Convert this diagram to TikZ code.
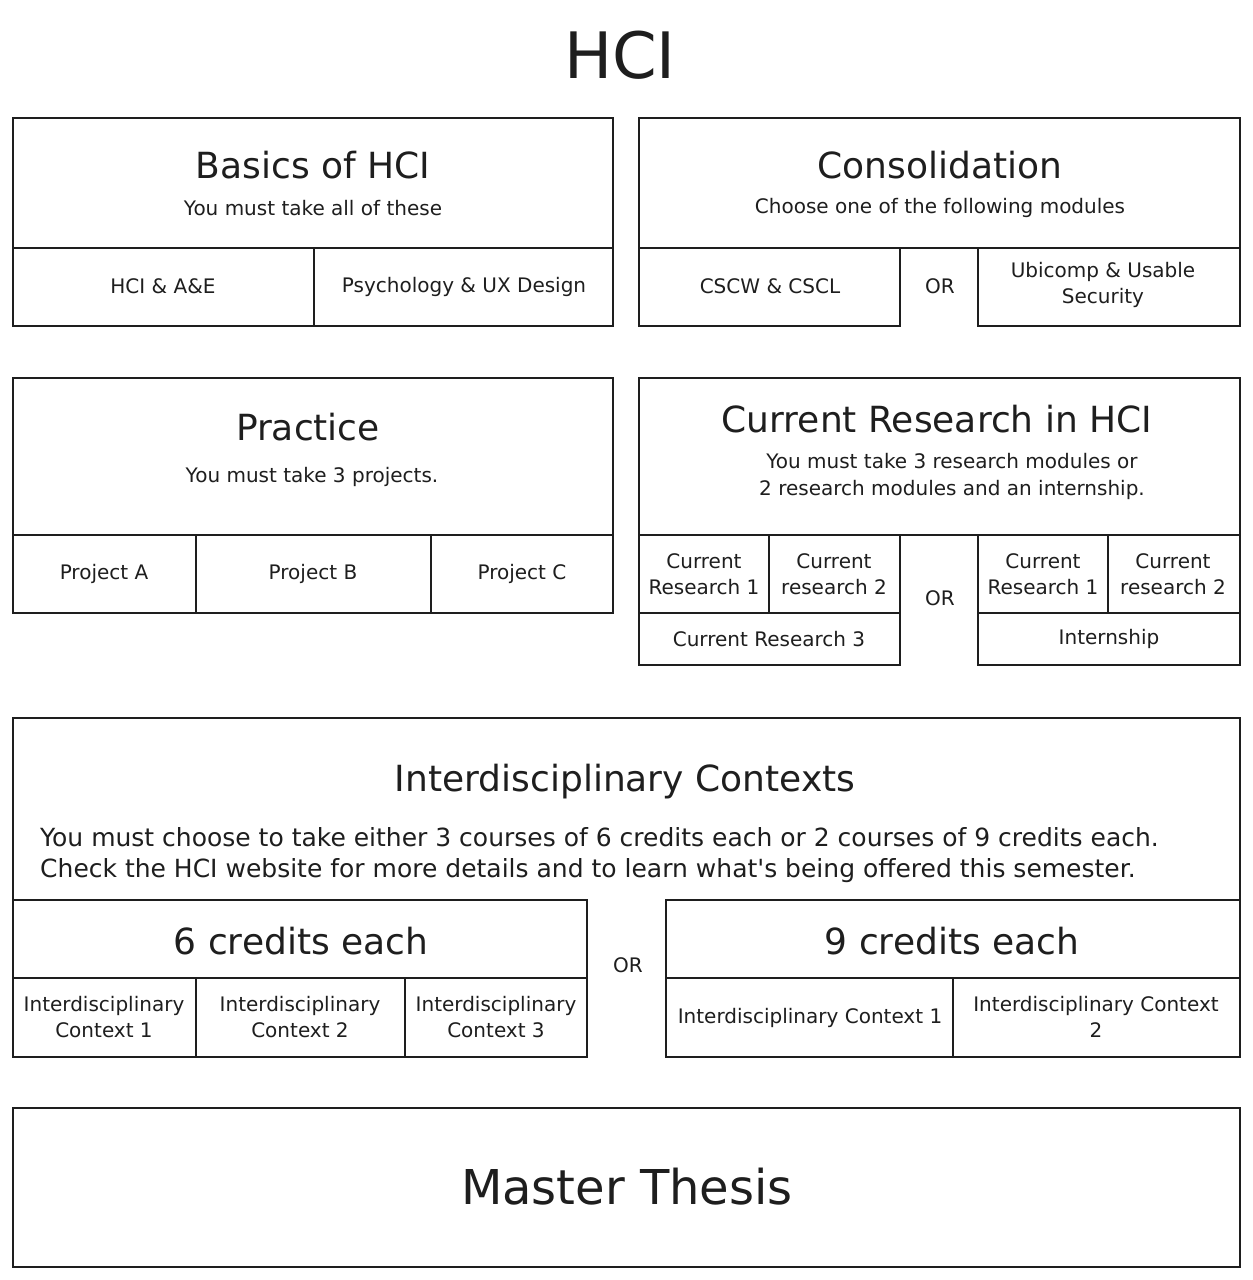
\documentclass[tikz,border=0pt]{standalone}
\usepackage{fontspec}
\setmainfont{DejaVu Sans}
\definecolor{ink}{HTML}{1E1E1E}
\begin{document}
\begin{tikzpicture}[x=1pt,y=-1pt,
  frame/.style={draw=ink, line width=2.8pt, line join=miter},
  body/.style={text=ink, align=center, inner sep=0pt, font=\fontsize{20}{26}\selectfont},
  sub/.style={text=ink, align=center, inner sep=0pt, font=\fontsize{20}{27}\selectfont},
  head/.style={text=ink, inner sep=0pt, font=\fontsize{36}{42}\selectfont},
  long/.style={text=ink, align=left, inner sep=0pt, font=\fontsize{25}{31}\selectfont},
  ortext/.style={text=ink, inner sep=0pt, font=\fontsize{20}{24}\selectfont}]
\useasboundingbox[fill=white] (0,0) rectangle (1253,1280);

% Title
\node[text=ink, inner sep=0pt, font=\fontsize{64}{70}\selectfont] (title) at (620,55) {HCI};

% ---------- Basics of HCI ----------
\draw[frame] (13,118) rectangle (613,326);
\draw[frame] (13,248) -- (613,248);
\draw[frame] (314,248) -- (314,326);
\node[head] (basicsT) at (313,165) {Basics of HCI};
\node[sub] (basicsS) at (313,208) {You must take all of these};
\node[body] (hciae) at (163,286) {HCI \& A\&E};
\node[body] (psych) at (464,287) {Psychology \& UX Design};

% ---------- Consolidation ----------
\draw[frame] (639,118) rectangle (1240,248);
\draw[frame] (639,248) rectangle (900,326);
\draw[frame] (978,248) rectangle (1240,326);
\node[head] (consT) at (940,165) {Consolidation};
\node[sub] (consS) at (940,208) {Choose one of the following modules};
\node[body] (cscw) at (770,286) {CSCW \& CSCL};
\node[ortext] (or1) at (940,286) {OR};
\node[body] (ubi) at (1103,285) {Ubicomp \& Usable\\Security};

% ---------- Practice ----------
\draw[frame] (13,378) rectangle (613,613);
\draw[frame] (13,535) -- (613,535);
\draw[frame] (196,535) -- (196,613);
\draw[frame] (431,535) -- (431,613);
\node[head] (pracT) at (308,427) {Practice};
\node[sub] (pracS) at (312,477) {You must take 3 projects.};
\node[body] (pa) at (104,574) {Project A};
\node[body] (pb) at (313,574) {Project B};
\node[body] (pc) at (522,574) {Project C};

% ---------- Current Research in HCI ----------
\draw[frame] (639,378) rectangle (1240,535);
\node[head] (crT) at (937,419) {Current Research in HCI};
\node[sub] (crS) at (952,476) {You must take 3 research modules or\\2 research modules and an internship.};
\draw[frame] (639,535) rectangle (900,665);
\draw[frame] (639,613) -- (900,613);
\draw[frame] (769,535) -- (769,613);
\node[body] (cr1a) at (704,574) {Current\\Research 1};
\node[body] (cr2a) at (834,574) {Current\\research 2};
\node[body] (cr3) at (769,639) {Current Research 3};
\node[ortext] (or2) at (940,598) {OR};
\draw[frame] (978,535) rectangle (1240,665);
\draw[frame] (978,613) -- (1240,613);
\draw[frame] (1108,535) -- (1108,613);
\node[body] (cr1b) at (1043,574) {Current\\Research 1};
\node[body] (cr2b) at (1173,574) {Current\\research 2};
\node[body] (intern) at (1109,639) {Internship};

% ---------- Interdisciplinary Contexts ----------
\draw[frame] (13,900) -- (13,718) -- (1240,718) -- (1240,900);
\node[head] (icT) at (625,782) {Interdisciplinary Contexts};
\node[long, anchor=west] (icS) at (40,855) {You must choose to take either 3 courses of 6 credits each or 2 courses of 9 credits each.\\Check the HCI website for more details and to learn what\textquotesingle s being offered this semester.};
\draw[frame] (13,900) rectangle (587,1057);
\draw[frame] (13,978) -- (587,978);
\draw[frame] (196,978) -- (196,1057);
\draw[frame] (405,978) -- (405,1057);
\node[head] (six) at (301,941) {6 credits each};
\node[body] (ic1) at (104,1017) {Interdisciplinary\\Context 1};
\node[body] (ic2) at (300,1017) {Interdisciplinary\\Context 2};
\node[body] (ic3) at (496,1017) {Interdisciplinary\\Context 3};
\node[ortext] (or3) at (628,965) {OR};
\draw[frame] (666,900) rectangle (1240,1057);
\draw[frame] (666,978) -- (1240,978);
\draw[frame] (953,978) -- (953,1057);
\node[head] (nine) at (952,941) {9 credits each};
\node[body] (ic9a) at (810,1018) {Interdisciplinary Context 1};
\node[body] (ic9b) at (1096,1017) {Interdisciplinary Context\\2};

% ---------- Master Thesis ----------
\draw[frame] (13,1108) rectangle (1240,1267);
\node[text=ink, inner sep=0pt, font=\fontsize{48}{54}\selectfont] (thesis) at (627,1187) {Master Thesis};
\end{tikzpicture}
\end{document}
